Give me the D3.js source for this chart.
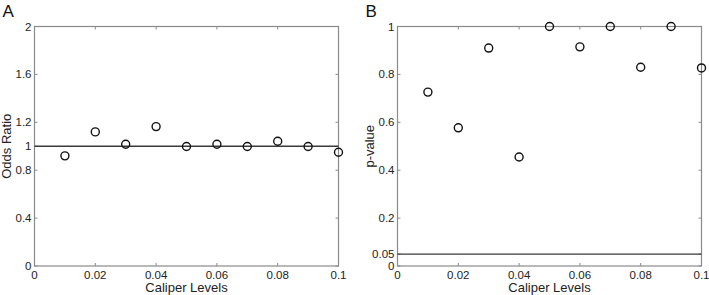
<!DOCTYPE html>
<html>
<head>
<meta charset="utf-8">
<script src="https://cdn.jsdelivr.net/npm/d3@7"></script>
<style>
  body { margin: 0; background: #fff; }
  svg { display: block; font-family: "Liberation Sans", Arial, sans-serif; }
</style>
</head>
<body>
<svg width="709" height="295"></svg>
<script>
const caliperLevels = [0.01, 0.02, 0.03, 0.04, 0.05, 0.06, 0.07, 0.08, 0.09, 0.1];
const oddsRatio = [0.92, 1.12, 1.017, 1.164, 0.998, 1.017, 0.998, 1.042, 0.998, 0.95];
const pValue = [0.726, 0.577, 0.91, 0.455, 1.0, 0.915, 1.0, 0.83, 1.0, 0.827];

const xTicks = [0, 0.02, 0.04, 0.06, 0.08, 0.1];
const oddsTicks = [0, 0.4, 0.8, 1, 1.2, 1.6, 2];
const pTicks = [0, 0.05, 0.2, 0.4, 0.6, 0.8, 1];

const svg = d3.select('svg');

function drawPanel(opts) {
    const { left, right, top, bottom, values, yDomain, yTicks, refLine, letter, yLabel } = opts;
    const g = svg.append('g');

    const x = d3.scaleLinear().domain([0, 0.1]).range([left, right]);
    const y = d3.scaleLinear().domain(yDomain).range([bottom, top]);

    // box
    g.append('rect')
        .attr('x', left).attr('y', top)
        .attr('width', right - left).attr('height', bottom - top)
        .attr('fill', 'none').attr('stroke', '#8a8a8a').attr('stroke-width', 1.2);

    const fmt = d => String(d);

    // ticks inward on all sides
    const tk = 3;
    g.append('g').selectAll('line').data(yTicks).join('line')
        .attr('x1', left).attr('x2', left + tk)
        .attr('y1', d => y(d)).attr('y2', d => y(d))
        .attr('stroke', '#8a8a8a');
    g.append('g').selectAll('line').data(yTicks).join('line')
        .attr('x1', right).attr('x2', right - tk)
        .attr('y1', d => y(d)).attr('y2', d => y(d))
        .attr('stroke', '#8a8a8a');
    g.append('g').selectAll('line').data(xTicks).join('line')
        .attr('x1', d => x(d)).attr('x2', d => x(d))
        .attr('y1', bottom).attr('y2', bottom - tk)
        .attr('stroke', '#8a8a8a');
    g.append('g').selectAll('line').data(xTicks).join('line')
        .attr('x1', d => x(d)).attr('x2', d => x(d))
        .attr('y1', top).attr('y2', top + tk)
        .attr('stroke', '#8a8a8a');

    // tick labels
    g.append('g').selectAll('text').data(yTicks).join('text')
        .attr('x', left - 3)
        .attr('y', d => y(d) + 4)
        .attr('text-anchor', 'end')
        .attr('font-size', 11.5)
        .attr('fill', '#222')
        .text(fmt);
    g.append('g').selectAll('text').data(xTicks).join('text')
        .attr('x', d => x(d))
        .attr('y', bottom + 13)
        .attr('text-anchor', 'middle')
        .attr('font-size', 11.5)
        .attr('fill', '#222')
        .text(fmt);

    // reference line
    g.append('line')
        .attr('x1', left).attr('x2', right)
        .attr('y1', y(refLine)).attr('y2', y(refLine))
        .attr('stroke', '#3a3a3a').attr('stroke-width', 1.3);

    // points
    g.append('g').selectAll('circle').data(values).join('circle')
        .attr('cx', (d, i) => x(caliperLevels[i]))
        .attr('cy', d => y(d))
        .attr('r', 4)
        .attr('fill', 'none')
        .attr('stroke', '#111')
        .attr('stroke-width', 1.4);

    // axis labels
    g.append('text')
        .attr('x', (left + right) / 2)
        .attr('y', bottom + 26)
        .attr('text-anchor', 'middle')
        .attr('font-size', 13)
        .attr('fill', '#222')
        .text('Caliper Levels');
    g.append('text')
        .attr('transform', `translate(${left - 24},${(top + bottom) / 2}) rotate(-90)`)
        .attr('text-anchor', 'middle')
        .attr('font-size', 13)
        .attr('fill', '#222')
        .text(yLabel);

    // panel letter
    g.append('text')
        .attr('x', left - 32)
        .attr('y', 17)
        .attr('font-size', 17)
        .attr('fill', '#111')
        .text(letter);
}

drawPanel({
    left: 34.5, right: 338.5, top: 26.5, bottom: 266,
    values: oddsRatio, yDomain: [0, 2], yTicks: oddsTicks, refLine: 1,
    letter: 'A', yLabel: 'Odds Ratio'
});

drawPanel({
    left: 397.5, right: 701.5, top: 26.5, bottom: 266,
    values: pValue, yDomain: [0, 1], yTicks: pTicks, refLine: 0.05,
    letter: 'B', yLabel: 'p-value'
});
</script>
</body>
</html>
